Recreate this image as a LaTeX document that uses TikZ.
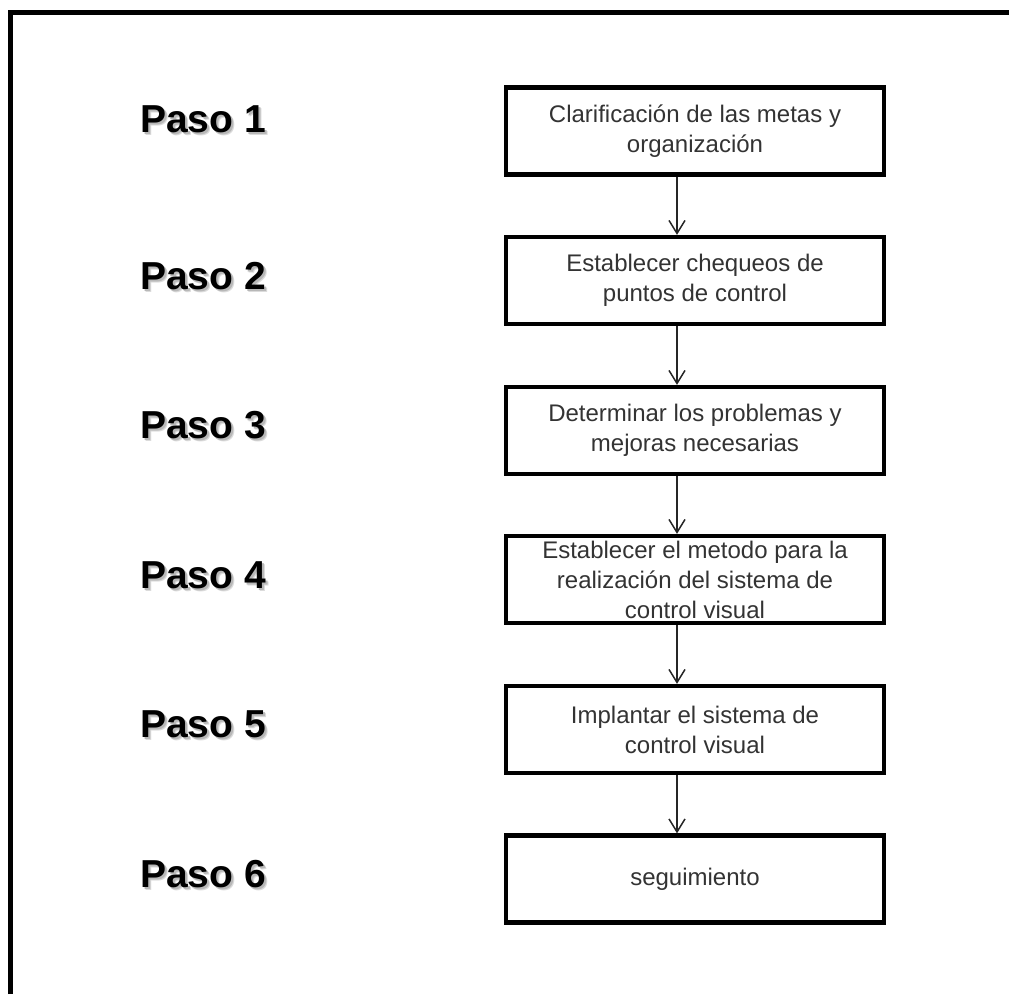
\documentclass[tikz,border=0pt]{standalone}
\usepackage{fontspec}
\setmainfont{Liberation Sans}
\usetikzlibrary{arrows.meta}
\definecolor{txtgray}{gray}{0.2}
\definecolor{shadowgray}{gray}{0.72}
\definecolor{shadowhaze}{gray}{0.86}
\begin{document}
\begin{tikzpicture}[x=1pt,y=-1pt,
  stepbox/.style={draw=black, line width=4.3pt, minimum width=378.5pt,
    minimum height=87pt, inner sep=0pt, align=center, text=txtgray,
    font=\fontsize{24}{30}\selectfont},
  pasolabel/.style={font=\fontsize{39}{45}\selectfont\bfseries, inner sep=0pt},
  pasoshadow/.style={pasolabel, text=shadowgray},
  pasohaze/.style={pasolabel, text=shadowhaze},
  flow/.style={draw=black!85, line width=1.5pt,
    -{Straight Barb[length=13pt,width=16pt]}},
  frameline/.style={line width=4.5pt, line join=miter},
]
\useasboundingbox (0,0) rectangle (1009,994);

% outer frame: only the top and left sides are drawn
\coordinate (fbl) at (10.5,994);
\coordinate (ftl) at (10.5,12.5);
\coordinate (ftr) at (1009,12.5);
\draw[frameline] (fbl) -- (ftl) -- (ftr);

% process boxes
\node[stepbox] (b1) at (695,131)   {Clarificación de las metas y\\organización};
\node[stepbox] (b2) at (695,280.5) {Establecer chequeos de\\puntos de control};
\node[stepbox] (b3) at (695,430.5) {Determinar los problemas y\\mejoras necesarias};
\node[stepbox] (b4) at (695,579.5) {Establecer el metodo para la\\realización del sistema de\\control visual};
\node[stepbox] (b5) at (695,729.5) {Implantar el sistema de\\control visual};
\node[stepbox] (b6) at (695,879)   {seguimiento};

% step labels with a soft drop shadow
\foreach \n/\y in {1/119,2/276,3/425,4/575,5/724,6/874}{
  \node[pasohaze]   (h\n) at (206,\y+3) {Paso \n};
  \node[pasoshadow] (s\n) at (205,\y+2) {Paso \n};
  \node[pasolabel]  (p\n) at (203,\y) {Paso \n};
}

% connectors, set left of the box centre line
\foreach \a/\b in {b1/b2,b2/b3,b3/b4,b4/b5,b5/b6}{
  \draw[flow] ([xshift=-18pt]\a.south) -- ([xshift=-18pt]\b.north);
}
\end{tikzpicture}
\end{document}
